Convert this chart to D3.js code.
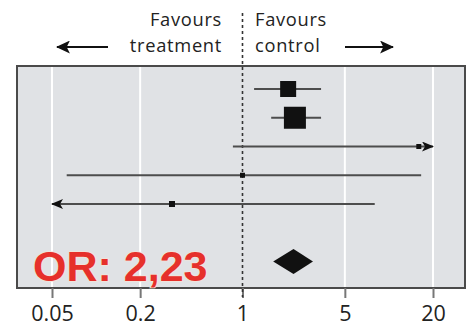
<!DOCTYPE html>
<html><head><meta charset="utf-8">
<script src="https://cdn.jsdelivr.net/npm/d3@7"></script>
<style>html,body{margin:0;padding:0;background:#fff;}svg{display:block;}</style>
</head><body>
<svg id="c" width="470" height="330"></svg>
<script>
// Data
const studies = ["1", "2", "3", "4", "5"];
const oddsRatio = [2.05, 2.28, 16.0, 1.0, 0.33];
const ciLow = [1.20, 1.57, 0.86, 0.063, 0.02];
const ciHigh = [3.44, 3.44, 60, 16.6, 8.0];
const weights = [16, 22, 5, 5, 6];
const pooled = { or: 2.23, low: 1.62, high: 3.03 };
const tickValues = [0.05, 0.2, 1, 5, 20];
const tickLabels = ["0.05", "0.2", "1", "5", "20"];
const leftLabel = ["Favours", "treatment"];
const rightLabel = ["Favours", "control"];
const orText = "OR: 2,23";

const svg = d3.select("#c");
const box = { l: 17, t: 66, r: 465, b: 288 };
const x = d3.scaleLog().domain([0.05, 20]).range([52, 433]);
const y = d3.scaleLinear().domain([0, 4]).range([89, 204]);
const pooledRow = 6;
const xmin = x.domain()[0], xmax = x.domain()[1];
const font = "'Open Sans', 'Noto Sans', sans-serif";

const defs = svg.append("defs");
defs.append("marker").attr("id", "ah").attr("viewBox", "0 0 12 10")
  .attr("refX", 11).attr("refY", 5).attr("markerWidth", 12).attr("markerHeight", 10)
  .attr("markerUnits", "userSpaceOnUse").attr("orient", "auto-start-reverse")
  .append("path").attr("d", "M0,0 L12,5 L0,10 L3,5 Z").attr("fill", "#111");
defs.append("marker").attr("id", "ah2").attr("viewBox", "0 0 13 12")
  .attr("refX", 12).attr("refY", 6).attr("markerWidth", 14).attr("markerHeight", 13)
  .attr("markerUnits", "userSpaceOnUse").attr("orient", "auto")
  .append("path").attr("d", "M0,0 L13,6 L0,12 L3,6 Z").attr("fill", "#111");

// panel
svg.append("rect").attr("x", box.l).attr("y", box.t)
  .attr("width", box.r - box.l).attr("height", box.b - box.t)
  .attr("fill", "#e0e2e5");

// gridlines
svg.append("g").selectAll("line").data(tickValues.filter(v => v !== 1)).join("line")
  .attr("x1", d => x(d)).attr("x2", d => x(d))
  .attr("y1", box.t).attr("y2", box.b)
  .attr("stroke", "#fff").attr("stroke-width", 2);

svg.append("rect").attr("x", box.l).attr("y", box.t)
  .attr("width", box.r - box.l).attr("height", box.b - box.t)
  .attr("fill", "none").attr("stroke", "#4a4a4a").attr("stroke-width", 2);

// axis
const axis = d3.axisBottom(x).tickValues(tickValues)
  .tickFormat((d, i) => tickLabels[i]).tickSize(10).tickSizeOuter(0);
const ag = svg.append("g").attr("transform", `translate(0,${box.b})`).call(axis);
ag.select(".domain").remove();
ag.selectAll(".tick line").attr("stroke", "#777").attr("stroke-width", 2);
ag.selectAll(".tick text").attr("font-family", font).attr("font-size", 21.5)
  .attr("fill", "#222").attr("dy", "0.92em");

// reference line at 1
svg.append("line").attr("x1", x(1)).attr("x2", x(1)).attr("y1", 13).attr("y2", box.b + 9)
  .attr("stroke", "#333").attr("stroke-width", 1.6).attr("stroke-dasharray", "3,3");

// CI lines
const rows = studies.map((s, i) => ({ s, i, or: oddsRatio[i], lo: ciLow[i], hi: ciHigh[i], w: weights[i] }));
const g = svg.append("g");
g.selectAll("line.ci").data(rows).join("line").attr("class", "ci")
  .attr("x1", d => x(Math.max(d.lo, xmin))).attr("x2", d => x(Math.min(d.hi, xmax)))
  .attr("y1", d => y(d.i)).attr("y2", d => y(d.i))
  .attr("stroke", "#4d4d4d").attr("stroke-width", 2)
  .attr("marker-end", d => d.hi > xmax ? "url(#ah)" : null)
  .attr("marker-start", d => d.lo < xmin ? "url(#ah)" : null);

g.selectAll("rect.pt").data(rows).join("rect").attr("class", "pt")
  .attr("x", d => x(d.or) - d.w / 2).attr("y", d => y(d.i) - d.w / 2)
  .attr("width", d => d.w).attr("height", d => d.w).attr("fill", "#111");

// pooled diamond
const py = y(pooledRow), ph = 12.5;
svg.append("path")
  .attr("d", `M${x(pooled.low)},${py} L${x(pooled.or)},${py - ph} L${x(pooled.high)},${py} L${x(pooled.or)},${py + ph} Z`)
  .attr("fill", "#111");

// OR text
svg.append("text").attr("x", 33).attr("y", 281).text(orText)
  .attr("font-family", "'Liberation Sans', Arial, sans-serif").attr("font-weight", "bold")
  .attr("font-size", 43).attr("fill", "#e6302b")
  .attr("stroke", "#f4e4d8").attr("stroke-width", 1.5).attr("paint-order", "stroke");

// header labels
const hl = svg.append("g").attr("font-family", font).attr("font-size", 18.3)
  .attr("letter-spacing", 0.7).attr("fill", "#222");
hl.append("text").attr("x", 222).attr("y", 26).attr("text-anchor", "end").text(leftLabel[0]);
hl.append("text").attr("x", 222).attr("y", 52).attr("text-anchor", "end").text(leftLabel[1]);
hl.append("text").attr("x", 255).attr("y", 26).text(rightLabel[0]);
hl.append("text").attr("x", 255).attr("y", 52).text(rightLabel[1]);

svg.append("line").attr("x1", 108).attr("x2", 57).attr("y1", 47).attr("y2", 47)
  .attr("stroke", "#111").attr("stroke-width", 2).attr("marker-end", "url(#ah2)");
svg.append("line").attr("x1", 345).attr("x2", 393).attr("y1", 47).attr("y2", 47)
  .attr("stroke", "#111").attr("stroke-width", 2).attr("marker-end", "url(#ah2)");
</script>
</body></html>
